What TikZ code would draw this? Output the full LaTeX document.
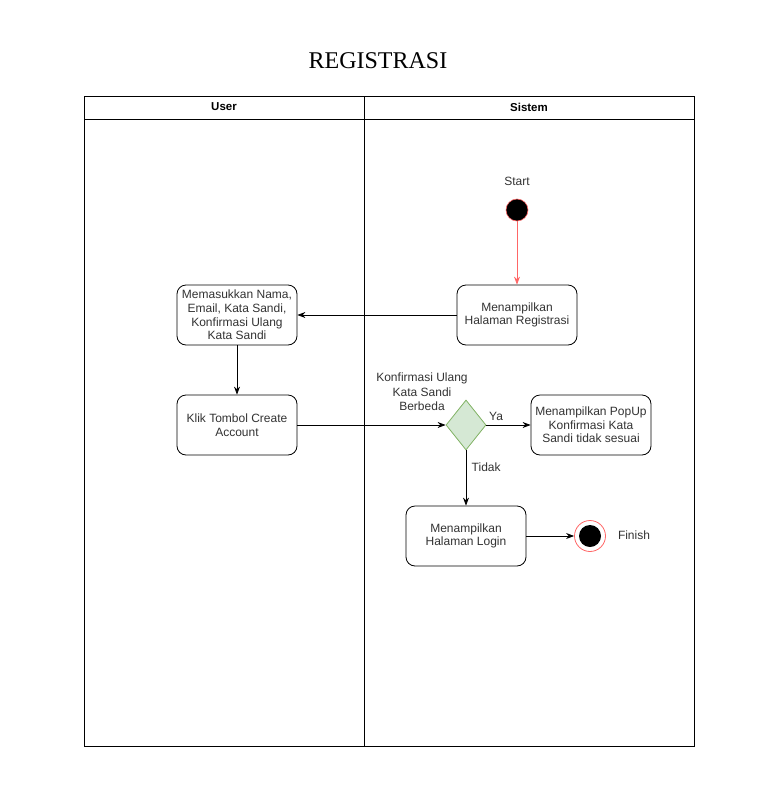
\documentclass[tikz,border=0pt]{standalone}
\usepackage{fontspec}
\setmainfont{Liberation Sans}
\newfontfamily\titlefont{Liberation Serif}
\usetikzlibrary{shapes.geometric, arrows.meta, positioning}
\definecolor{txtgray}{HTML}{333333}
\definecolor{decfill}{HTML}{D5E8D4}
\definecolor{decdraw}{HTML}{82B366}
\definecolor{startred}{HTML}{FF6666}

\begin{document}
\begin{tikzpicture}[
        x=1pt, y=-1pt,
        >={Stealth[length=8pt, width=6pt]},
        %% all positions in pixels of the 770x809 canvas, y downwards
        box/.style={rectangle, rounded corners=9pt, draw=black, line width=0.8pt, fill=white, minimum width=120pt, minimum height=60pt, align=center, inner sep=1pt, text=txtgray, font=\fontsize{12}{13.6}\selectfont},
        decision/.style={diamond, draw=decdraw, line width=0.8pt, fill=decfill, minimum width=40pt, minimum height=50pt, inner sep=0pt, aspect=0.8},
        lbl/.style={align=center, text=txtgray, font=\fontsize{12}{14.5}\selectfont},
        lanehead/.style={font=\fontsize{11.5}{13}\selectfont\bfseries},
        arrow/.style={->, line width=0.8pt, color=black},
        startarrow/.style={->, line width=0.8pt, color=startred}
    ]
    \useasboundingbox (0,0) rectangle (770,809);

    %% --- Title ---
    \node[font=\titlefont\fontsize{24}{26}\selectfont] (title) at (378,61) {REGISTRASI};

    %% --- Swimlanes ---
    \draw[line width=0.8pt] (84,96) rectangle (694,746);
    \draw[line width=0.8pt] (84,119) -- (694,119);
    \draw[line width=0.8pt] (364,96) -- (364,746);
    \node[lanehead] (laneuser) at (224,107) {User};
    \node[lanehead] (lanesys)  at (529,107) {Sistem};

    %% --- Start ---
    \node[circle, fill=black, draw=startred, line width=0.6pt, minimum size=22pt, inner sep=0pt] (start) at (517,210) {};
    \node[lbl] (startlbl) at (517,181) {Start};

    %% --- Activities ---
    \node[box] (registrasi) at (517,315) {Menampilkan\\Halaman Registrasi};
    \node[box] (masukkan)   at (237,315) {Memasukkan Nama,\\Email, Kata Sandi,\\Konfirmasi Ulang\\Kata Sandi};
    \node[box] (klik)       at (237,425) {Klik Tombol Create\\Account};
    \node[decision] (cek)   at (466,425) {};
    \node[lbl] (ceklbl)     at (422,392) {Konfirmasi Ulang\\Kata Sandi\\Berbeda};
    \node[box] (popup)      at (591,425) {Menampilkan PopUp\\Konfirmasi Kata\\Sandi tidak sesuai};
    \node[box] (login)      at (466,536) {Menampilkan\\Halaman Login};

    %% --- Finish ---
    \node[circle, fill=white, draw=startred, line width=0.8pt, minimum size=31pt, inner sep=0pt] (finish) at (590,536) {};
    \node[circle, fill=black, minimum size=22pt, inner sep=0pt] (finishdot) at (finish.center) {};
    \node[lbl] (finishlbl) at (634,535) {Finish};

    %% --- Flow ---
    \draw[startarrow] (start.south) -- (registrasi.north);
    \draw[arrow] (registrasi.west) -- (masukkan.east);
    \draw[arrow] (masukkan.south) -- (klik.north);
    \draw[arrow] (klik.east) -- (cek.west);
    \draw[arrow] (cek.east) -- (popup.west)
        node[lbl, pos=0.22, above=1pt] {Ya};
    \draw[arrow] (cek.south) -- (login.north)
        node[lbl, pos=0.3, right=2pt] {Tidak};
    \draw[arrow] (login.east) -- (finish.west);
\end{tikzpicture}
\end{document}
